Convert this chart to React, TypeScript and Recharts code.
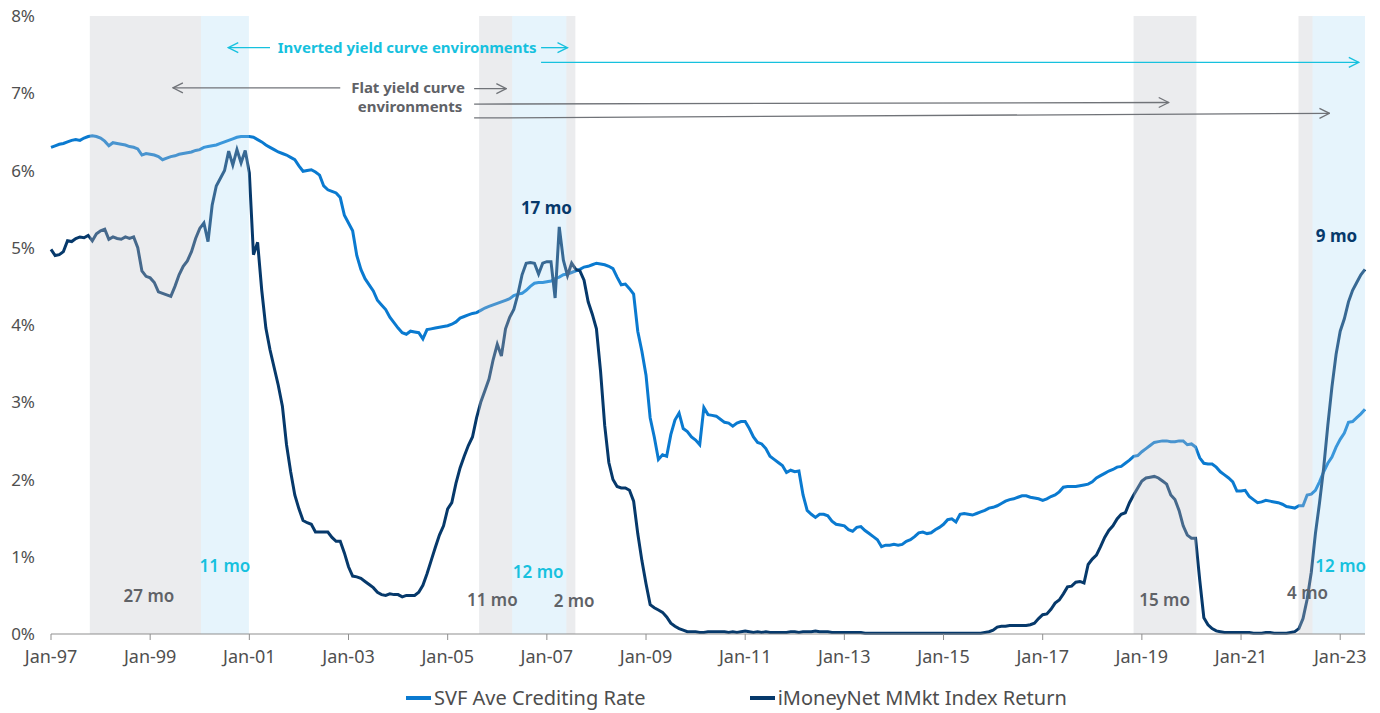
import { LineChart, Line, XAxis, YAxis, ReferenceArea, ReferenceLine, ReferenceDot, Legend } from "recharts";

const FONT = '"Noto Sans", "Open Sans", sans-serif';
const SVF_COLOR = "#0a7ad0";
const MMKT_COLOR = "#06396b";
const CYAN = "#16c1de";
const GRAY_TEXT = "#5f6267";
const GRAY_ARROW = "#707378";

// SVF Ave Crediting Rate (%), monthly, Jan-97 .. Jul-23
const svfRate = [
  6.30, 6.32, 6.34, 6.35, 6.37, 6.39, 6.40, 6.39, 6.42, 6.44, 6.45, 6.44, // 1997
  6.42, 6.38, 6.32, 6.36, 6.35, 6.34, 6.33, 6.31, 6.30, 6.28, 6.20, 6.22, // 1998
  6.21, 6.20, 6.18, 6.14, 6.16, 6.18, 6.19, 6.21, 6.22, 6.23, 6.24, 6.26, // 1999
  6.27, 6.30, 6.31, 6.32, 6.33, 6.35, 6.37, 6.39, 6.41, 6.43, 6.44, 6.44, // 2000
  6.44, 6.43, 6.40, 6.37, 6.33, 6.30, 6.27, 6.24, 6.22, 6.20, 6.17, 6.14, // 2001
  6.06, 5.99, 6.00, 6.01, 5.98, 5.94, 5.80, 5.75, 5.73, 5.71, 5.65, 5.42, // 2002
  5.32, 5.22, 4.90, 4.72, 4.60, 4.52, 4.44, 4.32, 4.26, 4.20, 4.10, 4.03, // 2003
  3.96, 3.90, 3.88, 3.92, 3.91, 3.90, 3.82, 3.94, 3.95, 3.96, 3.97, 3.98, // 2004
  3.99, 4.01, 4.04, 4.09, 4.11, 4.13, 4.15, 4.16, 4.19, 4.22, 4.24, 4.26, // 2005
  4.28, 4.30, 4.32, 4.34, 4.38, 4.40, 4.41, 4.45, 4.50, 4.54, 4.55, 4.55, // 2006
  4.56, 4.57, 4.60, 4.62, 4.65, 4.66, 4.68, 4.70, 4.72, 4.75, 4.76, 4.78, // 2007
  4.80, 4.79, 4.78, 4.76, 4.73, 4.62, 4.52, 4.53, 4.47, 4.40, 3.92, 3.66, // 2008
  3.35, 2.80, 2.55, 2.26, 2.32, 2.30, 2.58, 2.77, 2.86, 2.66, 2.62, 2.55, // 2009
  2.51, 2.45, 2.93, 2.84, 2.83, 2.82, 2.78, 2.74, 2.73, 2.69, 2.73, 2.75, // 2010
  2.75, 2.66, 2.55, 2.48, 2.46, 2.40, 2.30, 2.26, 2.22, 2.18, 2.09, 2.12, // 2011
  2.10, 2.11, 1.80, 1.60, 1.55, 1.51, 1.55, 1.55, 1.53, 1.46, 1.42, 1.41, // 2012
  1.40, 1.35, 1.33, 1.38, 1.39, 1.34, 1.30, 1.26, 1.22, 1.13, 1.15, 1.15, // 2013
  1.16, 1.15, 1.16, 1.20, 1.22, 1.26, 1.31, 1.32, 1.30, 1.31, 1.35, 1.38, // 2014
  1.42, 1.48, 1.49, 1.45, 1.55, 1.56, 1.55, 1.54, 1.56, 1.58, 1.60, 1.63, // 2015
  1.64, 1.66, 1.69, 1.72, 1.74, 1.75, 1.77, 1.79, 1.79, 1.77, 1.76, 1.75, // 2016
  1.73, 1.75, 1.78, 1.80, 1.84, 1.90, 1.91, 1.91, 1.91, 1.92, 1.93, 1.94, // 2017
  1.97, 2.02, 2.05, 2.08, 2.11, 2.13, 2.16, 2.17, 2.21, 2.25, 2.30, 2.31, // 2018
  2.36, 2.40, 2.44, 2.48, 2.49, 2.50, 2.50, 2.49, 2.49, 2.50, 2.50, 2.45, // 2019
  2.46, 2.42, 2.28, 2.21, 2.20, 2.20, 2.16, 2.10, 2.06, 2.02, 1.97, 1.85, // 2020
  1.85, 1.86, 1.78, 1.74, 1.70, 1.71, 1.73, 1.72, 1.71, 1.70, 1.68, 1.65, // 2021
  1.64, 1.63, 1.66, 1.66, 1.80, 1.81, 1.86, 1.97, 2.10, 2.21, 2.29, 2.42, // 2022
  2.52, 2.60, 2.74, 2.75, 2.80, 2.85, 2.91, // 2023
];

// iMoneyNet MMkt Index Return (%), monthly, Jan-97 .. Jul-23
const mmktReturn = [
  4.98, 4.90, 4.91, 4.95, 5.09, 5.08, 5.12, 5.14, 5.13, 5.16, 5.09, 5.18, // 1997
  5.22, 5.24, 5.11, 5.14, 5.12, 5.11, 5.14, 5.12, 5.14, 5.00, 4.70, 4.63, // 1998
  4.61, 4.55, 4.43, 4.41, 4.39, 4.37, 4.50, 4.65, 4.76, 4.83, 4.95, 5.12, // 1999
  5.25, 5.32, 5.08, 5.55, 5.80, 5.90, 6.00, 6.25, 6.07, 6.27, 6.10, 6.26, // 2000
  5.97, 4.91, 5.07, 4.45, 3.96, 3.68, 3.45, 3.22, 2.95, 2.45, 2.10, 1.80, // 2001
  1.62, 1.47, 1.44, 1.42, 1.32, 1.32, 1.32, 1.32, 1.25, 1.20, 1.20, 1.05, // 2002
  0.87, 0.75, 0.74, 0.72, 0.68, 0.64, 0.60, 0.54, 0.51, 0.50, 0.52, 0.51, // 2003
  0.51, 0.48, 0.50, 0.50, 0.50, 0.54, 0.63, 0.78, 0.95, 1.12, 1.28, 1.40, // 2004
  1.62, 1.70, 1.95, 2.15, 2.30, 2.44, 2.55, 2.80, 3.00, 3.15, 3.30, 3.55, // 2005
  3.75, 3.60, 3.95, 4.10, 4.20, 4.40, 4.65, 4.80, 4.81, 4.80, 4.66, 4.80, // 2006
  4.82, 4.82, 4.35, 5.27, 4.84, 4.64, 4.80, 4.72, 4.70, 4.58, 4.30, 4.14, // 2007
  3.95, 3.40, 2.70, 2.22, 2.00, 1.91, 1.89, 1.89, 1.86, 1.72, 1.30, 0.95, // 2008
  0.65, 0.38, 0.34, 0.31, 0.28, 0.22, 0.14, 0.10, 0.07, 0.05, 0.03, 0.03, // 2009
  0.03, 0.02, 0.02, 0.03, 0.03, 0.03, 0.03, 0.03, 0.02, 0.03, 0.02, 0.03, // 2010
  0.04, 0.03, 0.02, 0.03, 0.02, 0.03, 0.02, 0.02, 0.02, 0.02, 0.02, 0.03, // 2011
  0.03, 0.02, 0.03, 0.03, 0.03, 0.04, 0.03, 0.03, 0.03, 0.02, 0.02, 0.02, // 2012
  0.02, 0.02, 0.02, 0.02, 0.02, 0.01, 0.01, 0.01, 0.01, 0.01, 0.01, 0.01, // 2013
  0.01, 0.01, 0.01, 0.01, 0.01, 0.01, 0.01, 0.01, 0.01, 0.01, 0.01, 0.01, // 2014
  0.01, 0.01, 0.01, 0.01, 0.01, 0.01, 0.01, 0.01, 0.01, 0.01, 0.02, 0.03, // 2015
  0.05, 0.09, 0.10, 0.10, 0.11, 0.11, 0.11, 0.11, 0.11, 0.12, 0.14, 0.20, // 2016
  0.25, 0.26, 0.32, 0.40, 0.44, 0.52, 0.61, 0.62, 0.67, 0.68, 0.66, 0.90, // 2017
  0.97, 1.02, 1.13, 1.25, 1.34, 1.40, 1.49, 1.55, 1.57, 1.70, 1.80, 1.89, // 2018
  1.98, 2.02, 2.03, 2.04, 2.02, 1.98, 1.94, 1.80, 1.74, 1.60, 1.40, 1.28, // 2019
  1.24, 1.24, 0.70, 0.21, 0.12, 0.07, 0.04, 0.03, 0.02, 0.02, 0.02, 0.02, // 2020
  0.02, 0.02, 0.02, 0.01, 0.01, 0.01, 0.02, 0.02, 0.01, 0.01, 0.01, 0.01, // 2021
  0.02, 0.03, 0.07, 0.20, 0.45, 0.80, 1.30, 1.70, 2.15, 2.70, 3.20, 3.62, // 2022
  3.92, 4.08, 4.30, 4.45, 4.55, 4.65, 4.72, // 2023
];

// x is months since Jan-97
const xTicks = [0, 24, 48, 72, 96, 120, 144, 168, 192, 216, 240, 264, 288, 312];
const xTickLabels = ["Jan-97", "Jan-99", "Jan-01", "Jan-03", "Jan-05", "Jan-07", "Jan-09", "Jan-11", "Jan-13", "Jan-15", "Jan-17", "Jan-19", "Jan-21", "Jan-23"];
const yTicks = [0, 1, 2, 3, 4, 5, 6, 7, 8];

// shaded environments, months since Jan-97
const flatPeriods = [
  [9.4, 36.3],
  [103.6, 111.6],
  [124.7, 126.9],
  [262, 277.2],
  [301.9, 305.3],
];
const invertedPeriods = [
  [36.3, 47.9],
  [111.6, 124.7],
  [305.3, 318],
];

const data = svfRate.map((v, i) => ({ m: i, svf: v, mmkt: mmktReturn[i] }));

const notes = [
  { x: 86.2, y: 7.59, text: "Inverted yield curve environments", color: CYAN, size: 15, weight: 700 },
  { x: 86.4, y: 7.07, text: "Flat yield curve", color: GRAY_TEXT, size: 15, weight: 700 },
  { x: 86.9, y: 6.82, text: "environments", color: GRAY_TEXT, size: 15, weight: 700 },
  { x: 119.9, y: 5.51, text: "17 mo", color: MMKT_COLOR, size: 17, weight: 700 },
  { x: 311.1, y: 5.15, text: "9 mo", color: MMKT_COLOR, size: 17, weight: 700 },
  { x: 42.1, y: 0.88, text: "11 mo", color: CYAN, size: 17, weight: 600 },
  { x: 23.7, y: 0.49, text: "27 mo", color: GRAY_TEXT, size: 17, weight: 600 },
  { x: 106.8, y: 0.44, text: "11 mo", color: GRAY_TEXT, size: 17, weight: 600 },
  { x: 117.9, y: 0.8, text: "12 mo", color: CYAN, size: 17, weight: 600 },
  { x: 126.6, y: 0.43, text: "2 mo", color: GRAY_TEXT, size: 17, weight: 600 },
  { x: 269.5, y: 0.44, text: "15 mo", color: GRAY_TEXT, size: 17, weight: 600 },
  { x: 304.1, y: 0.53, text: "4 mo", color: GRAY_TEXT, size: 17, weight: 600 },
  { x: 312.1, y: 0.88, text: "12 mo", color: CYAN, size: 17, weight: 600 },
];

const arrows = [
  { x1: 53, y1: 7.59, x2: 42.9, y2: 7.59, kind: "cyan" },
  { x1: 118.6, y1: 7.59, x2: 125, y2: 7.59, kind: "cyan" },
  { x1: 118.6, y1: 7.4, x2: 316.5, y2: 7.4, kind: "cyan" },
  { x1: 70, y1: 7.07, x2: 29.5, y2: 7.07, kind: "gray" },
  { x1: 102.4, y1: 7.06, x2: 110.2, y2: 7.06, kind: "gray" },
  { x1: 102.4, y1: 6.86, x2: 270.5, y2: 6.88, kind: "gray" },
  { x1: 102.4, y1: 6.68, x2: 309.4, y2: 6.74, kind: "gray" },
];

const legendItems = [
  { name: "SVF Ave Crediting Rate", color: SVF_COLOR },
  { name: "iMoneyNet MMkt Index Return", color: MMKT_COLOR },
];

function LegendContent() {
  return (
    <div style={{ display: "flex", paddingLeft: 398, fontFamily: FONT, fontSize: 20, color: "#4d4d4d", lineHeight: "24px", paddingBottom: 3 }}>
      {legendItems.map((it, i) => (
        <span key={it.name} style={{ display: "flex", alignItems: "center", marginRight: i === 0 ? 104 : 0 }}>
          <span style={{ display: "inline-block", width: 25, height: 4, background: it.color, marginRight: 3 }} />
          {it.name}
        </span>
      ))}
    </div>
  );
}

export default function App() {
  return (
    <div style={{ marginTop: -8 }}>
      <LineChart width={1364} height={713} data={data} margin={{ top: 16, right: 7, left: 0, bottom: 0 }}>
        <defs>
          <marker id="head-cyan" viewBox="0 0 12 12" markerWidth={12} markerHeight={12} refX={11} refY={6} orient="auto" markerUnits="userSpaceOnUse">
            <path d="M1,1 L11,6 L1,11" fill="none" stroke={CYAN} strokeWidth={1.3} />
          </marker>
          <marker id="head-gray" viewBox="0 0 12 12" markerWidth={12} markerHeight={12} refX={11} refY={6} orient="auto" markerUnits="userSpaceOnUse">
            <path d="M1,1 L11,6 L1,11" fill="none" stroke={GRAY_ARROW} strokeWidth={1.3} />
          </marker>
        </defs>
        <XAxis
          type="number"
          dataKey="m"
          domain={[0, 318]}
          ticks={xTicks}
          interval={0}
          tickFormatter={(v) => xTickLabels[xTicks.indexOf(v)] ?? ""}
          height={52}
          tickSize={6}
          tickMargin={10}
          stroke="#8f8f8f"
          tick={{ fill: "#4f4f4f", fontSize: 18, fontFamily: FONT }}
        />
        <YAxis
          domain={[0, 8]}
          ticks={yTicks}
          interval={0}
          tickFormatter={(v) => `${v}%`}
          axisLine={false}
          tickLine={false}
          tickSize={0}
          tickMargin={16}
          width={43}
          tick={{ fill: "#4f4f4f", fontSize: 17, fontFamily: FONT }}
        />
        <Line type="linear" dataKey="svf" name="SVF Ave Crediting Rate" stroke={SVF_COLOR} strokeWidth={3} dot={false} isAnimationActive={false} />
        <Line type="linear" dataKey="mmkt" name="iMoneyNet MMkt Index Return" stroke={MMKT_COLOR} strokeWidth={3} dot={false} isAnimationActive={false} />
        {flatPeriods.map(([a, b]) => (
          <ReferenceArea key={`f${a}`} x1={a} x2={b} y1={0} y2={8} fill="rgb(196,199,205)" fillOpacity={0.34} stroke="none" zIndex={450} />
        ))}
        {invertedPeriods.map(([a, b]) => (
          <ReferenceArea key={`i${a}`} x1={a} x2={b} y1={0} y2={8} fill="rgb(172,218,245)" fillOpacity={0.3} stroke="none" zIndex={450} />
        ))}
        {arrows.map((a, i) => (
          <ReferenceLine
            key={`a${i}`}
            segment={[{ x: a.x1, y: a.y1 }, { x: a.x2, y: a.y2 }]}
            stroke={a.kind === "cyan" ? CYAN : GRAY_ARROW}
            strokeWidth={1.3}
            markerEnd={`url(#head-${a.kind})`}
            zIndex={460}
          />
        ))}
        {notes.map((n, i) => (
          <ReferenceDot
            key={`n${i}`}
            x={n.x}
            y={n.y}
            r={0}
            fill="none"
            stroke="none"
            zIndex={470}
            label={{ value: n.text, position: "center", fill: n.color, fontSize: n.size, fontWeight: n.weight, fontFamily: FONT }}
          />
        ))}
        <Legend verticalAlign="bottom" content={() => <LegendContent />} />
      </LineChart>
    </div>
  );
}
